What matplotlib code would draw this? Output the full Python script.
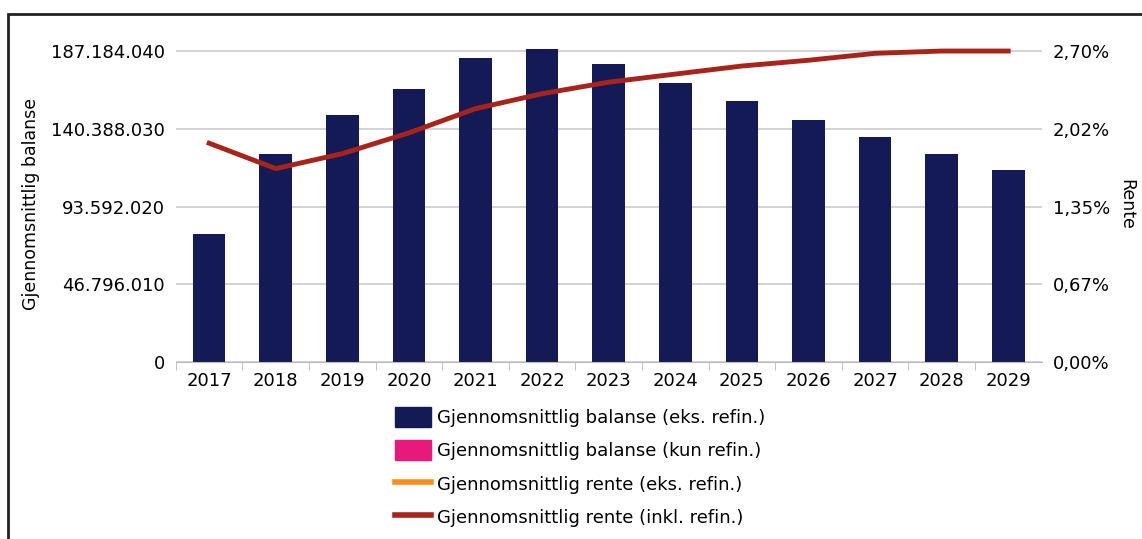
import matplotlib.pyplot as plt
from matplotlib.patches import Patch, Rectangle
from matplotlib.lines import Line2D
from matplotlib.ticker import FixedLocator, FixedFormatter

years = ['2017', '2018', '2019', '2020', '2021', '2022', '2023',
         '2024', '2025', '2026', '2027', '2028', '2029']
balanse = [77.0e6, 125.2e6, 148.7e6, 164.3e6, 183.0e6, 188.4e6, 179.4e6,
           167.9e6, 157.1e6, 145.7e6, 135.4e6, 125.2e6, 115.6e6]
rente = [1.90, 1.68, 1.81, 1.99, 2.20, 2.33, 2.43,
         2.50, 2.57, 2.62, 2.68, 2.70, 2.70]

left_ticks = [0, 46796010, 93592020, 140388030, 187184040]
left_labels = ['0', '46.796.010', '93.592.020', '140.388.030', '187.184.040']
right_ticks = [0, 0.675, 1.35, 2.025, 2.70]
right_labels = ['0,00%', '0,67%', '1,35%', '2,02%', '2,70%']

navy = '#141a55'
pink = '#e8197a'
orange = '#ff8c1a'
darkred = '#a8231a'

plt.rcParams['font.family'] = 'DejaVu Sans'
fig = plt.figure(figsize=(11.42, 5.39), dpi=100)
ax = fig.add_axes([0.154, 0.328, 0.758, 0.586])

x = list(range(len(years)))
ax.bar(x, balanse, width=0.49, color=navy, zorder=2)
ymax = 190e6
ax.set_ylim(0, ymax)
ax.set_xlim(-0.5, len(years) - 0.5)

ax.yaxis.set_major_locator(FixedLocator(left_ticks))
ax.yaxis.set_major_formatter(FixedFormatter(left_labels))
ax.grid(axis='y', color='#cccccc', linewidth=1.2, zorder=0)
ax.set_axisbelow(True)
ax.set_xticks(x)
ax.set_xticklabels(years)
ax.set_xticks([i + 0.5 for i in x[:-1]] + [-0.5], minor=True)
ax.tick_params(axis='x', which='major', length=0, labelsize=13, pad=7)
ax.tick_params(axis='x', which='minor', length=6, color='#bbbbbb')
ax.tick_params(axis='y', length=0, labelsize=13, pad=8)
for s in ['top', 'right', 'left']:
    ax.spines[s].set_visible(False)
ax.spines['bottom'].set_color('#bbbbbb')
ax.set_ylabel('Gjennomsnittlig balanse', fontsize=12.5, labelpad=8)

ax2 = ax.twinx()
ax2.plot(x, rente, color=darkred, linewidth=3.5, zorder=3)
ax2.set_ylim(0, 2.70 * ymax / 187184040)
ax2.yaxis.set_major_locator(FixedLocator(right_ticks))
ax2.yaxis.set_major_formatter(FixedFormatter(right_labels))
ax2.tick_params(axis='y', length=0, labelsize=13, pad=8)
for s in ['top', 'right', 'left', 'bottom']:
    ax2.spines[s].set_visible(False)
ax2.set_ylabel('Rente', fontsize=12.5, rotation=270, labelpad=18)

handles = [
    Patch(color=navy, label='Gjennomsnittlig balanse (eks. refin.)'),
    Patch(color=pink, label='Gjennomsnittlig balanse (kun refin.)'),
    Line2D([], [], color=orange, linewidth=4, label='Gjennomsnittlig rente (eks. refin.)'),
    Line2D([], [], color=darkred, linewidth=4, label='Gjennomsnittlig rente (inkl. refin.)'),
]
fig.legend(handles=handles, loc='upper center', bbox_to_anchor=(0.508, 0.275),
           frameon=False, fontsize=13, handlelength=2.0, handleheight=1.3,
           handletextpad=0.3, labelspacing=0.75)

# scanned page border
fig.patches.append(Rectangle((0.007, -0.1), 1.1, 1.074, transform=fig.transFigure,
                             fill=False, edgecolor='#222222', linewidth=2))

fig.savefig('out.png', dpi=100)
